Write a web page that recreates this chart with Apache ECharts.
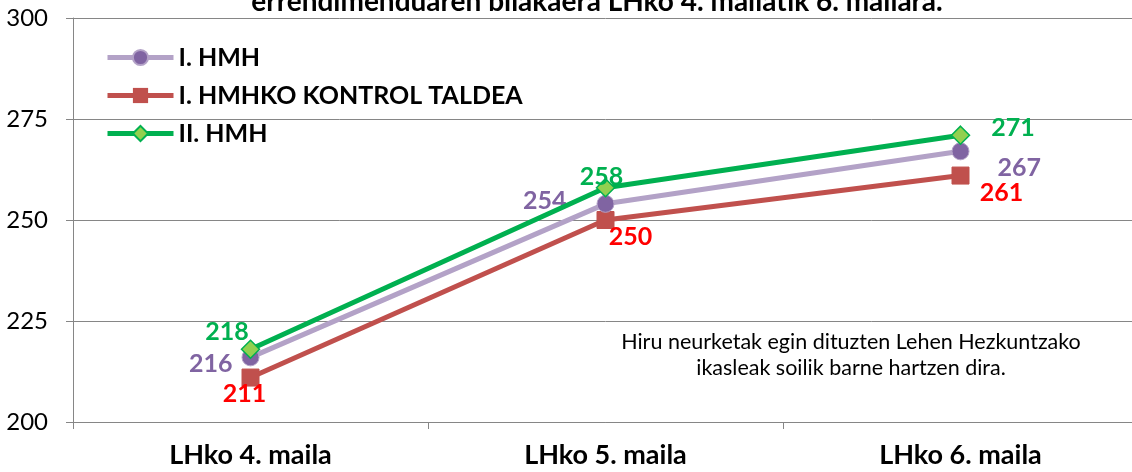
<!doctype html>
<html lang="eu">
<head>
  <meta charset="utf-8">
  <title>Errendimenduaren bilakaera</title>
  <script src="https://cdn.jsdelivr.net/npm/echarts@6/dist/echarts.min.js"></script>
  <style>
    html, body { margin: 0; padding: 0; background: #fff; overflow: hidden; }
    /* slightly wider than the window: the plot runs off the right edge like the original */
    #chartmain { width: 1138px; height: 472px; }
  </style>
</head>
<body>
<div id="chartmain"></div>
<script>
  var categories = ['LHko 4. maila', 'LHko 5. maila', 'LHko 6. maila'];
  var hmh1 = [216, 254, 267];
  var kontrol = [211, 250, 261];
  var hmh2 = [218, 258, 271];
  var seriesNames = ['I. HMH', 'I. HMHKO KONTROL TALDEA', 'II. HMH'];
  var yTicks = { min: 200, max: 300, step: 25 };

  // label placement per point (style only)
  var hmh1Lbl = [{ position: 'left', offset: [-4, 7] }, { position: 'left', offset: [-25, -3] }, { position: 'right', offset: [23, 17] }];
  var kontrolLbl = [{ position: 'bottom', offset: [-6, -10] }, { position: 'bottom', offset: [25, -10] }, { position: 'bottom', offset: [41, -9] }];
  var hmh2Lbl = [{ position: 'left', offset: [13, -17] }, { position: 'top', offset: [-4, 17] }, { position: 'right', offset: [16, -7] }];

  var font = 'Lato, "Open Sans", sans-serif';

  function withLabels(vals, lbls, color) {
    return vals.map(function (v, i) {
      return { value: v, label: { position: lbls[i].position, offset: lbls[i].offset, color: color } };
    });
  }

  var myChart = echarts.init(document.getElementById('chartmain'));
  var option = {
    backgroundColor: '#ffffff',
    animation: false,
    textStyle: { fontFamily: font },
    title: {
      text: 'errendimenduaren bilakaera LHko 4. mailatik 6. mailara.',
      left: 592,
      textAlign: 'center',
      top: -17,
      textStyle: { fontFamily: font, fontSize: 28, fontWeight: 'bold', color: '#000' }
    },
    grid: { left: 73, right: 0, top: 18, bottom: 50, containLabel: false },
    legend: {
      orient: 'vertical',
      left: 105,
      top: 45,
      padding: 0,
      itemWidth: 66,
      itemHeight: 19,
      itemGap: 13,
      data: seriesNames,
      lineStyle: { width: 5 },
      textStyle: { fontFamily: font, fontSize: 25, fontWeight: 'bold', color: '#000' }
    },
    xAxis: {
      type: 'category',
      data: categories,
      boundaryGap: true,
      axisLine: { lineStyle: { color: '#868686', width: 1 } },
      axisTick: { show: true, length: 7, lineStyle: { color: '#868686' } },
      axisLabel: { fontFamily: font, fontSize: 27, fontWeight: 'bold', color: '#000', margin: 20 }
    },
    yAxis: {
      type: 'value',
      min: yTicks.min,
      max: yTicks.max,
      interval: yTicks.step,
      axisLine: { show: true, lineStyle: { color: '#868686', width: 1 } },
      axisTick: { show: true, length: 7, lineStyle: { color: '#868686' } },
      splitLine: { lineStyle: { color: '#868686', width: 1 } },
      axisLabel: { fontFamily: font, fontSize: 24, color: '#000', margin: 25 }
    },
    graphic: [{
      type: 'text',
      x: 851,
      y: 329,
      style: {
        text: 'Hiru neurketak egin dituzten Lehen Hezkuntzako\nikasleak soilik barne hartzen dira.',
        font: '21.5px ' + font,
        fill: '#000',
        lineHeight: 26,
        align: 'center',
        verticalAlign: 'top'
      }
    }],
    series: [
      {
        name: seriesNames[0],
        type: 'line',
        data: withLabels(hmh1, hmh1Lbl, '#8064A2'),
        symbol: 'circle',
        symbolSize: 17,
        z: 3,
        lineStyle: { color: '#B3A2C7', width: 5 },
        itemStyle: { color: '#8064A2', borderColor: '#B3A2C7', borderWidth: 1 },
        label: { show: true, fontFamily: font, fontSize: 25, fontWeight: 'bold' }
      },
      {
        name: seriesNames[1],
        type: 'line',
        data: withLabels(kontrol, kontrolLbl, '#FF0000'),
        symbol: 'rect',
        symbolSize: 17,
        z: 2,
        lineStyle: { color: '#C0504D', width: 5 },
        itemStyle: { color: '#C0504D', borderColor: '#C0504D' },
        label: { show: true, fontFamily: font, fontSize: 25, fontWeight: 'bold' }
      },
      {
        name: seriesNames[2],
        type: 'line',
        data: withLabels(hmh2, hmh2Lbl, '#00B050'),
        symbol: 'diamond',
        symbolSize: 18,
        z: 4,
        lineStyle: { color: '#00B050', width: 5 },
        itemStyle: { color: '#92D050', borderColor: '#00B050', borderWidth: 1.5 },
        label: { show: true, fontFamily: font, fontSize: 25, fontWeight: 'bold' }
      }
    ]
  };
  myChart.setOption(option);
</script>
</body>
</html>
